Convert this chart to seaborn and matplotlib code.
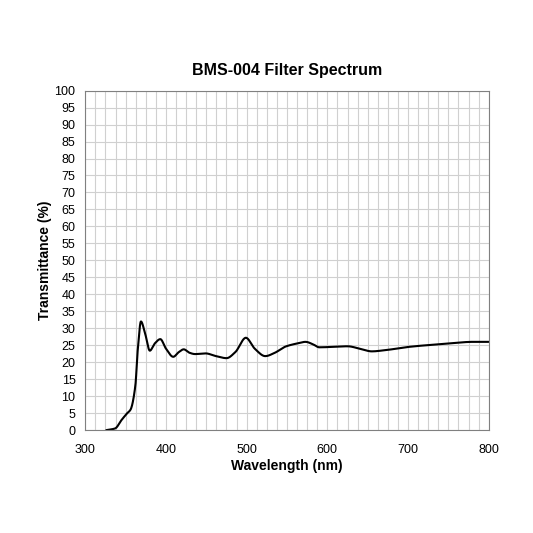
import numpy as np
import matplotlib
matplotlib.use("Agg")
import matplotlib.pyplot as plt
import seaborn as sns

wavelength = [326, 337, 345, 352, 356, 362, 365, 369, 374, 380, 386, 393, 400, 409, 416, 422, 429,
              436, 449, 462, 475, 486, 499, 510, 523, 535, 548, 560, 573, 582, 590, 605, 625,
              640, 655, 670, 700, 750, 780, 800]
transmittance = [0, 0.5, 3, 5, 6, 13, 23.6, 32, 28.6, 23.4, 25.5, 26.8, 24, 21.6, 23, 23.8, 22.8,
                 22.4, 22.6, 21.8, 21.2, 23, 27.2, 24, 21.8, 22.8, 24.6, 25.4, 26, 25.3, 24.4, 24.5, 24.7,
                 24, 23.2, 23.5, 24.5, 25.5, 26, 26]


def pchip(x, y, xs):
    # monotone cubic interpolation (no scipy needed)
    x = np.asarray(x, float)
    y = np.asarray(y, float)
    h = np.diff(x)
    d = np.diff(y) / h
    m = np.zeros_like(y)
    for k in range(1, len(x) - 1):
        if d[k - 1] * d[k] > 0:
            w1 = 2 * h[k] + h[k - 1]
            w2 = h[k] + 2 * h[k - 1]
            m[k] = (w1 + w2) / (w1 / d[k - 1] + w2 / d[k])
    m[0], m[-1] = d[0], d[-1]
    i = np.clip(np.searchsorted(x, xs) - 1, 0, len(x) - 2)
    t = (xs - x[i]) / h[i]
    h00 = 2 * t**3 - 3 * t**2 + 1
    h10 = t**3 - 2 * t**2 + t
    h01 = -2 * t**3 + 3 * t**2
    h11 = t**3 - t**2
    return h00 * y[i] + h10 * h[i] * m[i] + h01 * y[i + 1] + h11 * h[i] * m[i + 1]


xs = np.linspace(min(wavelength), max(wavelength), 1500)
ys = pchip(wavelength, transmittance, xs)

sns.set_style("white")
plt.rcParams["font.family"] = ["Liberation Sans", "DejaVu Sans"]

fig, ax = plt.subplots(figsize=(5.33, 5.33), dpi=100)
fig.subplots_adjust(left=0.16, right=0.917, top=0.83, bottom=0.193)

sns.lineplot(x=xs, y=ys, ax=ax, color="black", linewidth=1.5)

ax.set_xlim(300, 800)
ax.set_ylim(0, 100)
ax.set_xticks(np.arange(300, 801, 100))
ax.set_xticks(np.arange(300, 801, 12.5), minor=True)
ax.set_yticks(np.arange(0, 101, 5))
ax.grid(True, which="both", color="#d0d0d0", linewidth=0.8)
ax.tick_params(which="both", length=0, labelsize=9, labelcolor="black")
ax.tick_params(axis="y", pad=7)
ax.tick_params(axis="x", pad=10)
for s in ax.spines.values():
    s.set_color("#808080")
    s.set_linewidth(0.8)

ax.set_title("BMS-004 Filter Spectrum", fontsize=11.5, fontweight="bold", pad=11, color="black")
ax.set_xlabel("Wavelength (nm)", fontsize=10, fontweight="bold", labelpad=2, color="black")
ax.set_ylabel("Transmittance (%)", fontsize=10, fontweight="bold", labelpad=2, color="black")

fig.savefig("out.png", dpi=100)
